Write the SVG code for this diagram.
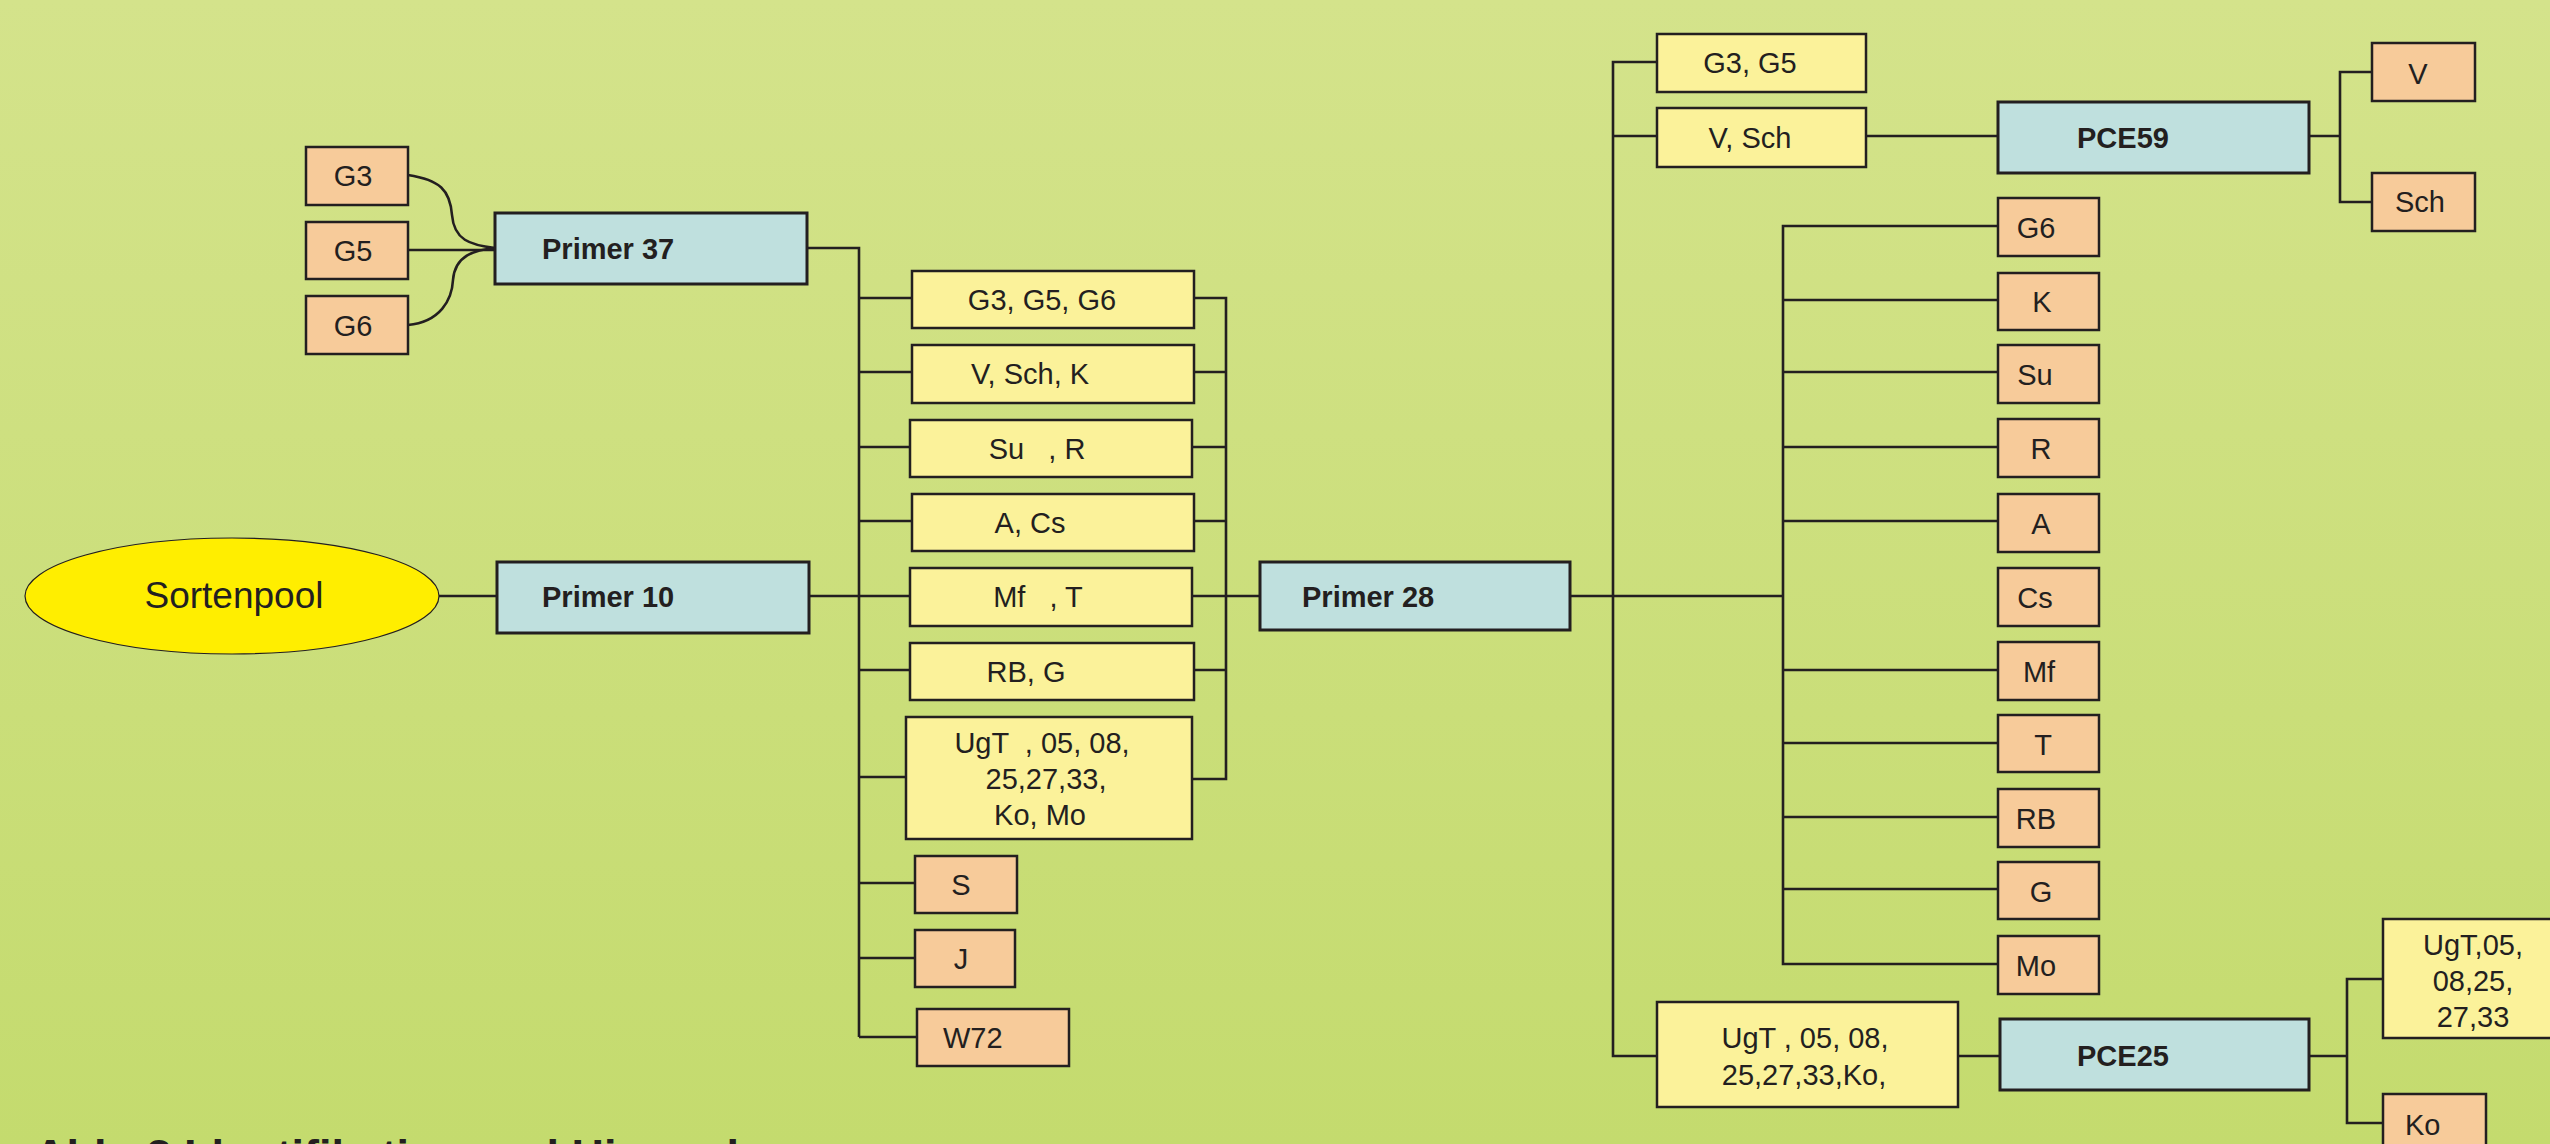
<svg xmlns="http://www.w3.org/2000/svg" width="2550" height="1144" viewBox="0 0 2550 1144">
<defs>
<linearGradient id="bg" x1="0" y1="0" x2="0" y2="1">
<stop offset="0" stop-color="#d4e38b"/>
<stop offset="1" stop-color="#c4db6e"/>
</linearGradient>
</defs>
<style>
.o{fill:#f7cb9a;stroke:#231f20;stroke-width:2.5}
.y{fill:#fbf29a;stroke:#231f20;stroke-width:2.5}
.b{fill:#bfe0de;stroke:#231f20;stroke-width:3}
.e{fill:#ffee00;stroke:#231f20;stroke-width:1.2}
text{font-family:"Liberation Sans",Arial,sans-serif;font-size:29px;fill:#231f20;white-space:pre}
.m{text-anchor:middle}
.bd{font-weight:bold}
.c path{fill:none;stroke:#231f20;stroke-width:2.6}
</style>
<rect x="0" y="0" width="2550" height="1144" fill="url(#bg)"/>

<g class="c" id="connectors">
<path d="M408,175 C440,180 450,190 452,215 C454,240 470,245 495,248"/>
<path d="M408,250 H495"/>
<path d="M408,325 C440,322 452,300 453,280 C455,255 475,250 495,248"/>
<path d="M439,596 H497"/>
<path d="M807,248 H859 V1037"/>
<path d="M809,596 H1260"/>
<path d="M859,298 H912 M859,372 H912 M859,447 H910 M859,521 H912 M859,670 H910 M859,777 H906 M859,883 H915 M859,958 H915 M859,1037 H917"/>
<path d="M1194,298 H1226 V779 H1192 M1194,372 H1226 M1192,447 H1226 M1194,521 H1226 M1194,670 H1226"/>
<path d="M1570,596 H1783"/>
<path d="M1657,62 H1613 V1056 H1657 M1613,136 H1657"/>
<path d="M1866,136 H1998"/>
<path d="M2309,136 H2340 M2372,72 H2340 V202 H2372"/>
<path d="M1998,226 H1783 V964 H1998 M1783,300 H1998 M1783,372 H1998 M1783,447 H1998 M1783,521 H1998 M1783,670 H1998 M1783,743 H1998 M1783,817 H1998 M1783,889 H1998"/>
<path d="M1958,1056 H2000"/>
<path d="M2309,1056 H2347 M2383,979 H2347 V1123 H2383"/>
</g>

<g id="n-g3a"><rect class="o" x="306" y="147" width="102" height="58"/><text class="m" x="353" y="186">G3</text></g>
<g id="n-g5a"><rect class="o" x="306" y="222" width="102" height="57"/><text class="m" x="353" y="261">G5</text></g>
<g id="n-g6a"><rect class="o" x="306" y="296" width="102" height="58"/><text class="m" x="353" y="336">G6</text></g>
<g id="n-primer37"><rect class="b" x="495" y="213" width="312" height="71"/><text class="bd" x="542" y="259">Primer 37</text></g>
<g id="n-sortenpool"><ellipse class="e" cx="232" cy="596" rx="207" ry="58"/><text class="m" x="234" y="608" style="font-size:37px">Sortenpool</text></g>
<g id="n-primer10"><rect class="b" x="497" y="562" width="312" height="71"/><text class="bd" x="542" y="607">Primer 10</text></g>

<g id="n-m1"><rect class="y" x="912" y="271" width="282" height="57"/><text class="m" x="1042" y="310">G3, G5, G6</text></g>
<g id="n-m2"><rect class="y" x="912" y="345" width="282" height="58"/><text class="m" x="1030" y="384">V, Sch, K</text></g>
<g id="n-m3"><rect class="y" x="910" y="420" width="282" height="57"/><text class="m" x="1037" y="459">Su   , R</text></g>
<g id="n-m4"><rect class="y" x="912" y="494" width="282" height="57"/><text class="m" x="1030" y="533">A, Cs</text></g>
<g id="n-m5"><rect class="y" x="910" y="568" width="282" height="58"/><text class="m" x="1038" y="607">Mf   , T</text></g>
<g id="n-m6"><rect class="y" x="910" y="643" width="284" height="57"/><text class="m" x="1026" y="682">RB, G</text></g>
<g id="n-m7"><rect class="y" x="906" y="717" width="286" height="122"/><text class="m" x="1042" y="753">UgT  , 05, 08,</text><text class="m" x="1046" y="789">25,27,33,</text><text class="m" x="1040" y="825">Ko, Mo</text></g>
<g id="n-s"><rect class="o" x="915" y="856" width="102" height="57"/><text class="m" x="961" y="895">S</text></g>
<g id="n-j"><rect class="o" x="915" y="930" width="100" height="57"/><text class="m" x="961" y="969">J</text></g>
<g id="n-w72"><rect class="o" x="917" y="1009" width="152" height="57"/><text x="943" y="1048">W72</text></g>

<g id="n-primer28"><rect class="b" x="1260" y="562" width="310" height="68"/><text class="bd" x="1302" y="607">Primer 28</text></g>

<g id="n-g3g5"><rect class="y" x="1657" y="34" width="209" height="58"/><text class="m" x="1750" y="73">G3, G5</text></g>
<g id="n-vsch"><rect class="y" x="1657" y="108" width="209" height="59"/><text class="m" x="1750" y="148">V, Sch</text></g>
<g id="n-pce59"><rect class="b" x="1998" y="102" width="311" height="71"/><text class="bd" x="2077" y="148">PCE59</text></g>
<g id="n-v"><rect class="o" x="2372" y="43" width="103" height="58"/><text class="m" x="2418" y="84">V</text></g>
<g id="n-sch"><rect class="o" x="2372" y="173" width="103" height="58"/><text class="m" x="2420" y="212">Sch</text></g>

<g id="n-r-g6"><rect class="o" x="1998" y="198" width="101" height="58"/><text class="m" x="2036" y="238">G6</text></g>
<g id="n-r-k"><rect class="o" x="1998" y="273" width="101" height="57"/><text class="m" x="2042" y="312">K</text></g>
<g id="n-r-su"><rect class="o" x="1998" y="345" width="101" height="58"/><text class="m" x="2035" y="385">Su</text></g>
<g id="n-r-r"><rect class="o" x="1998" y="419" width="101" height="58"/><text class="m" x="2041" y="459">R</text></g>
<g id="n-r-a"><rect class="o" x="1998" y="494" width="101" height="58"/><text class="m" x="2041" y="534">A</text></g>
<g id="n-r-cs"><rect class="o" x="1998" y="568" width="101" height="58"/><text class="m" x="2035" y="608">Cs</text></g>
<g id="n-r-mf"><rect class="o" x="1998" y="642" width="101" height="58"/><text class="m" x="2039" y="682">Mf</text></g>
<g id="n-r-t"><rect class="o" x="1998" y="715" width="101" height="57"/><text class="m" x="2043" y="755">T</text></g>
<g id="n-r-rb"><rect class="o" x="1998" y="789" width="101" height="58"/><text class="m" x="2036" y="829">RB</text></g>
<g id="n-r-g"><rect class="o" x="1998" y="862" width="101" height="57"/><text class="m" x="2041" y="902">G</text></g>
<g id="n-r-mo"><rect class="o" x="1998" y="936" width="101" height="58"/><text class="m" x="2036" y="976">Mo</text></g>

<g id="n-ugt"><rect class="y" x="1657" y="1002" width="301" height="105"/><text class="m" x="1805" y="1048">UgT , 05, 08,</text><text class="m" x="1804" y="1085">25,27,33,Ko,</text></g>
<g id="n-pce25"><rect class="b" x="2000" y="1019" width="309" height="71"/><text class="bd" x="2077" y="1066">PCE25</text></g>
<g id="n-ugt2"><rect class="y" x="2383" y="919" width="180" height="119"/><text class="m" x="2473" y="955">UgT,05,</text><text class="m" x="2473" y="991">08,25,</text><text class="m" x="2473" y="1027">27,33</text></g>
<g id="n-ko"><rect class="o" x="2383" y="1094" width="103" height="60"/><text x="2405" y="1135">Ko</text></g>

<text class="bd" x="34" y="1171" style="font-size:45px">Abb. 3 Identifikation und Hierarch</text>
</svg>
